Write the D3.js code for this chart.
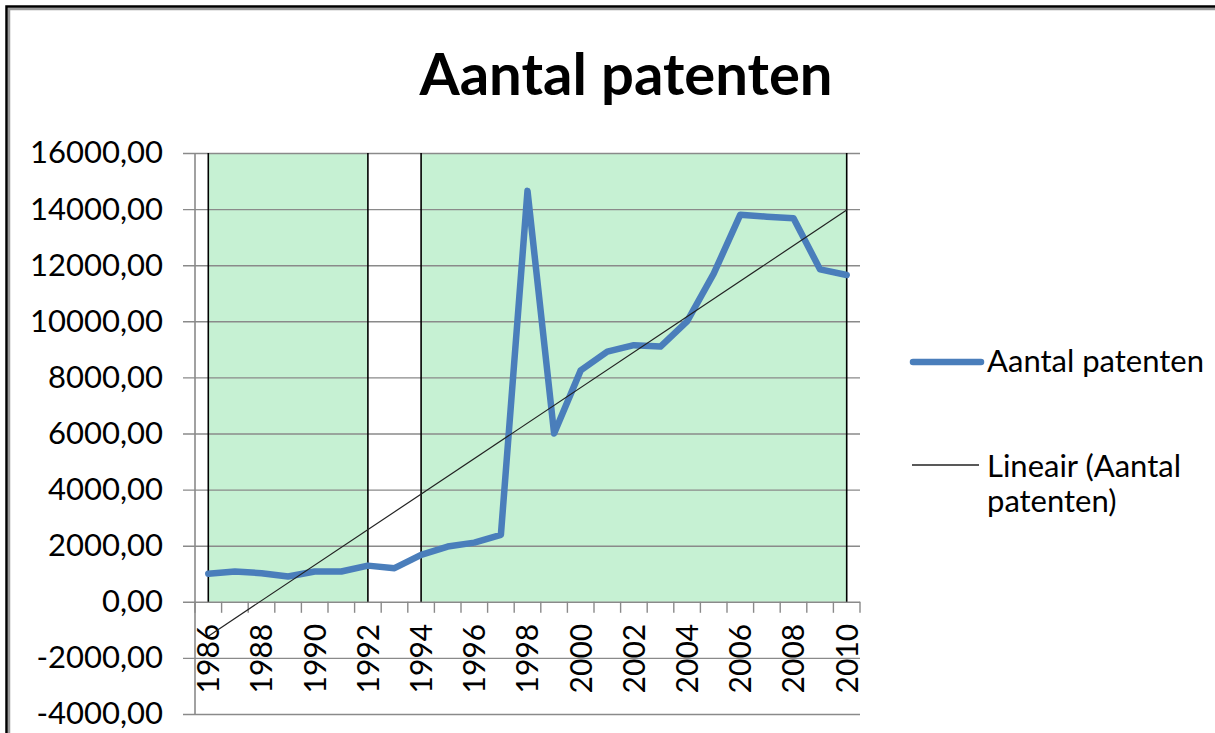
<!DOCTYPE html>
<html>
<head>
<meta charset="utf-8">
<script src="https://cdn.jsdelivr.net/npm/d3@7"></script>
<style>
    body { margin: 0; background: #fff; }
    svg { display: block; }
</style>
</head>
<body>
<div id="svg_container"></div>
<script>
// chart data
let years = d3.range(1986, 2011);
let patents = [1000, 1080, 1020, 900, 1080, 1080, 1290, 1200, 1675, 1970, 2110, 2390,
    14650, 6000, 8250, 8920, 9150, 9100, 10000, 11700, 13800, 13730, 13670, 11850, 11650];
let yTicks = [-4000, -2000, 0, 2000, 4000, 6000, 8000, 10000, 12000, 14000, 16000];
let xLabelYears = [1986, 1988, 1990, 1992, 1994, 1996, 1998, 2000, 2002, 2004, 2006, 2008, 2010];
let greenBands = [[1986, 1992], [1994, 2010]];
let seriesName = "Aantal patenten";
let trendName = ["Lineair (Aantal", "patenten)"];
let title = "Aantal patenten";

function init() {
    let width = 1215, height = 733;
    let font = "Lato, 'Open Sans', sans-serif";

    let svg = d3.select("#svg_container")
        .append("svg")
        .attr("width", width)
        .attr("height", height);

    // outer frame (right/bottom run off the picture)
    svg.append("rect")
        .attr("x", 9).attr("y", 9)
        .attr("width", width + 20).attr("height", height + 20)
        .attr("fill", "none")
        .attr("stroke", "#9a9a9a")
        .attr("stroke-width", 2.5);
    svg.append("rect")
        .attr("x", 6.5).attr("y", 6.5)
        .attr("width", width + 20).attr("height", height + 20)
        .attr("fill", "none")
        .attr("stroke", "#000")
        .attr("stroke-width", 2.5);

    let plot = {left: 195, right: 860, top: 153, bottom: 714};

    let x = d3.scaleBand()
        .domain(years)
        .range([plot.left, plot.right])
        .padding(0);

    let y = d3.scaleLinear()
        .domain([-4000, 16000])
        .range([plot.bottom, plot.top]);

    let cx = function (yr) { return x(yr) + x.bandwidth() / 2; };

    // green bands
    greenBands.forEach(function (b) {
        svg.append("rect")
            .attr("x", cx(b[0]))
            .attr("y", y(16000))
            .attr("width", cx(b[1]) - cx(b[0]))
            .attr("height", y(0) - y(16000))
            .attr("fill", "#c6f1d3");
    });

    // gridlines + y labels
    let fmt = function (v) { return d3.format(".2f")(v).replace(".", ",").replace("\u2212", "-"); };
    let yAxis = svg.append("g")
        .attr("transform", "translate(183,0)")
        .call(d3.axisLeft(y)
            .tickValues(yTicks)
            .tickFormat(fmt)
            .tickSize(-(plot.right - 183))
            .tickPadding(20));
    yAxis.select(".domain").remove();
    yAxis.selectAll("line")
        .attr("stroke", "#8a8a8a")
        .attr("stroke-width", 1.4);
    yAxis.selectAll("text")
        .attr("font-family", font)
        .attr("font-size", 31)
        .attr("fill", "#000");

    // vertical band edges
    let edges = [];
    greenBands.forEach(function (b) { edges.push(b[0], b[1]); });
    svg.append("g")
        .selectAll("line")
        .data(edges)
        .enter()
        .append("line")
        .attr("x1", cx).attr("x2", cx)
        .attr("y1", y(16000)).attr("y2", y(0))
        .attr("stroke", "#000")
        .attr("stroke-width", 1.6);

    // y axis line
    svg.append("line")
        .attr("x1", plot.left).attr("x2", plot.left)
        .attr("y1", plot.top).attr("y2", plot.bottom)
        .attr("stroke", "#8a8a8a")
        .attr("stroke-width", 1.6);

    // x axis tick marks (between categories)
    let bounds = years.map(function (yr) { return x(yr); }).concat([plot.right]);
    svg.append("g")
        .selectAll("line")
        .data(bounds)
        .enter()
        .append("line")
        .attr("x1", function (d) { return d; })
        .attr("x2", function (d) { return d; })
        .attr("y1", y(0)).attr("y2", y(0) + 11)
        .attr("stroke", "#8a8a8a")
        .attr("stroke-width", 1.4);

    // x labels
    let xAxis = svg.append("g")
        .attr("transform", "translate(0," + y(0) + ")")
        .call(d3.axisBottom(x).tickValues(xLabelYears).tickSize(0));
    xAxis.select(".domain").remove();
    xAxis.selectAll("text")
        .attr("font-family", font)
        .attr("font-size", 30)
        .attr("fill", "#000")
        .attr("text-anchor", "end")
        .attr("transform", "rotate(-90)")
        .attr("x", -22)
        .attr("y", 0)
        .attr("dy", "0.36em");

    // linear trendline (least squares)
    let n = patents.length;
    let mx = d3.mean(d3.range(n)), my = d3.mean(patents);
    let sxy = d3.sum(patents, function (v, i) { return (i - mx) * (v - my); });
    let sxx = d3.sum(d3.range(n), function (i) { return (i - mx) * (i - mx); });
    let slope = sxy / sxx, icpt = my - slope * mx;
    let trend = [0, n - 1].map(function (i) { return {year: years[i], v: icpt + slope * i}; });

    svg.append("path")
        .datum(patents.map(function (v, i) { return {year: years[i], v: v}; }))
        .attr("fill", "none")
        .attr("stroke", "#4a7ebb")
        .attr("stroke-width", 6.5)
        .attr("stroke-linejoin", "round")
        .attr("stroke-linecap", "round")
        .attr("d", d3.line()
            .x(function (d) { return cx(d.year); })
            .y(function (d) { return y(d.v); }));

    svg.append("path")
        .datum(trend)
        .attr("fill", "none")
        .attr("stroke", "#222")
        .attr("stroke-width", 1.2)
        .attr("d", d3.line()
            .x(function (d) { return cx(d.year); })
            .y(function (d) { return y(d.v); }));

    // title
    svg.append("text")
        .attr("x", 626)
        .attr("y", 95)
        .attr("text-anchor", "middle")
        .attr("font-family", font)
        .attr("font-weight", "bold")
        .attr("font-size", 58)
        .text(title);

    // legend
    let legend = svg.append("g");
    legend.append("line")
        .attr("x1", 913).attr("x2", 981)
        .attr("y1", 362).attr("y2", 362)
        .attr("stroke", "#4a7ebb")
        .attr("stroke-width", 6.5)
        .attr("stroke-linecap", "round");
    legend.append("text")
        .attr("x", 987).attr("y", 372)
        .attr("font-family", font)
        .attr("font-size", 31)
        .text(seriesName);
    legend.append("line")
        .attr("x1", 912).attr("x2", 979)
        .attr("y1", 465).attr("y2", 465)
        .attr("stroke", "#222")
        .attr("stroke-width", 1.4);
    legend.selectAll("text.trend")
        .data(trendName)
        .enter()
        .append("text")
        .attr("class", "trend")
        .attr("x", 987)
        .attr("y", function (d, i) { return 477 + i * 35; })
        .attr("font-family", font)
        .attr("font-size", 31)
        .text(function (d) { return d; });
}
init();
</script>
</body>
</html>
